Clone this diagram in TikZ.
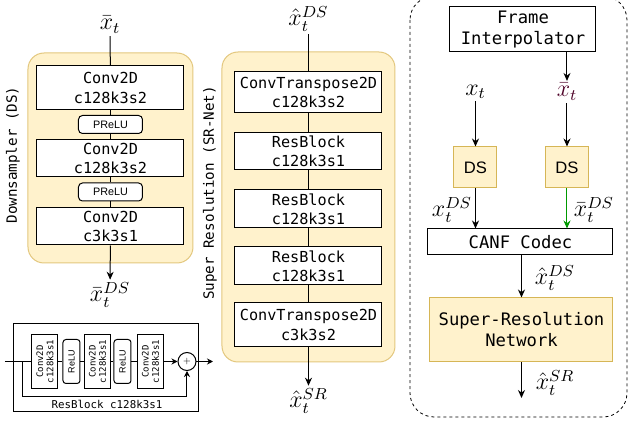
\documentclass[tikz,border=0pt]{standalone}
\usepackage{fontspec}
\setmonofont{DejaVu Sans Mono}
\setsansfont{Liberation Sans}
\usetikzlibrary{arrows.meta}

\definecolor{ylwfill}{HTML}{FFF2CC}
\definecolor{ylwdraw}{HTML}{D6B656}
\definecolor{ylwbg}{HTML}{E3C77E}
\definecolor{arrgreen}{HTML}{009900}
\definecolor{xbarcol}{HTML}{4D0026}

\begin{document}
\begin{tikzpicture}[x=0.5pt,y=-0.5pt,line width=0.5pt,
    >={Stealth[length=4pt,width=3.5pt]},
    layer/.style={draw,fill=white,align=center,inner sep=0pt,
        font=\ttfamily\fontsize{7.6}{9.7}\selectfont,minimum width=73.5pt},
    act/.style={draw,fill=white,rounded corners=2pt,inner sep=0pt,
        font=\sffamily\fontsize{5.4}{6}\selectfont,minimum width=32pt,minimum height=9pt},
    lbl/.style={font=\fontsize{11.5}{13}\selectfont,inner sep=1pt},
    sidelbl/.style={rotate=90,font=\ttfamily\fontsize{7.1}{8}\selectfont},
    panel/.style={draw=ylwbg,fill=ylwfill,rounded corners=8pt},
    bigbox/.style={draw,align=center,inner sep=0pt,
        font=\ttfamily\fontsize{8.6}{10.5}\selectfont},
    dsbox/.style={draw=ylwdraw,fill=ylwfill,inner sep=0pt,
        font=\sffamily\fontsize{8.3}{10}\selectfont,minimum width=21.5pt,minimum height=20.5pt},
    rconv/.style={draw,fill=white,rotate=90,align=center,inner sep=0pt,
        font=\ttfamily\fontsize{4.5}{5.2}\selectfont,minimum width=27pt,minimum height=13pt},
    rrelu/.style={draw,fill=white,rotate=90,rounded corners=1.5pt,inner sep=0pt,
        font=\sffamily\fontsize{4.5}{5}\selectfont,minimum width=22pt,minimum height=8.5pt},
    sml/.style={-{Stealth[length=3pt,width=3pt]}}]

    \useasboundingbox (0,0) rectangle (629,423);

    % Downsampler
    \draw[panel] (28,53) rectangle (193,263);
    \node[sidelbl] (dslbl) at (13,155) {Downsampler (DS)};
    \node[lbl] (xbar) at (110,25) {$\bar{x}_t$};
    \node[layer,minimum height=22pt] (conv1) at (110.5,88) {Conv2D\\c128k3s2};
    \node[act] (prelu1) at (110.5,124.5) {PReLU};
    \node[layer,minimum height=18.5pt] (conv2) at (110.5,158.5) {Conv2D\\c128k3s2};
    \node[act] (prelu2) at (110.5,192) {PReLU};
    \node[layer,minimum height=18.5pt] (conv3) at (110.5,226.5) {Conv2D\\c3k3s1};
    \node[lbl] (xbards) at (110,295) {$\bar{x}_t^{DS}$};

    \draw (xbar) -- (conv1);
    \draw (conv1) -- (prelu1) -- (conv2) -- (prelu2) -- (conv3);
    \draw[->] (conv3) -- (xbards);

    % Super resolution
    \draw[panel] (222,52) rectangle (395,362);
    \node[sidelbl] (srlbl) at (210,193) {Super Resolution (SR-Net)};
    \node[lbl] (xhatds) at (308.5,19) {$\hat{x}_t^{DS}$};
    \node[layer,minimum height=20.5pt] (tconv1) at (308.5,92.5) {ConvTranspose2D\\c128k3s2};
    \node[layer,minimum height=18.5pt] (res1) at (308.5,151.5) {ResBlock\\c128k3s1};
    \node[layer,minimum height=19pt] (res2) at (308.5,209) {ResBlock\\c128k3s1};
    \node[layer,minimum height=19pt] (res3) at (308.5,266) {ResBlock\\c128k3s1};
    \node[layer,minimum height=22pt] (tconv2) at (308.5,325) {ConvTranspose2D\\c3k3s2};
    \node[lbl] (xhatsr) at (308.5,401) {$\hat{x}_t^{SR}$};

    \draw (xhatds) -- (tconv1);
    \draw (tconv1) -- (res1) -- (res2) -- (res3) -- (tconv2);
    \draw[->] (tconv2) -- (xhatsr);

    % ResBlock detail
    \node[draw,minimum width=92.5pt,minimum height=44pt] (rbox) at (106.5,368) {};
    \node[font=\ttfamily\fontsize{5.4}{6}\selectfont] (rblbl) at (107,404) {ResBlock c128k3s1};
    \node[rconv] (rc1) at (45,361.5) {Conv2D\\c128k3s1};
    \node[rrelu] (rr1) at (71.5,361.5) {ReLU};
    \node[rconv] (rc2) at (97.5,361.5) {Conv2D\\c128k3s1};
    \node[rrelu] (rr2) at (122.5,361.5) {ReLU};
    \node[rconv] (rc3) at (150.5,361.5) {Conv2D\\c128k3s1};
    \node[draw,circle,fill=white,minimum size=9pt,inner sep=0pt,
        font=\fontsize{4}{4}\selectfont] (plus) at (187,361.5) {+};
    \coordinate (rin) at (5,361.5);
    \coordinate (split) at (23,361.5);
    \coordinate (skip) at (23,397);
    \coordinate (rout) at (213,361.5);

    \draw (rin) -- (rc1) -- (rr1) -- (rc2) -- (rr2) -- (rc3);
    \draw[sml] (rc3) -- (plus);
    \draw[sml] (plus) -- (rout);
    \draw[sml] (split) -- (skip) -| (plus.south);

    % Coding pipeline
    \draw[line width=0.4pt,dash pattern=on 1.5pt off 1.5pt,rounded corners=12pt]
        (410,-4) rectangle (627,417);
    \node[bigbox,minimum width=73pt,minimum height=22.5pt] (interp) at (523,29.5) {Frame\\Interpolator};
    \node[lbl] (xt) at (475.5,92) {$x_t$};
    \node[lbl,text=xbarcol] (xbar2) at (567,92) {$\bar{x}_t$};
    \node[dsbox] (ds1) at (475.5,167.5) {DS};
    \node[dsbox] (ds2) at (567,167.5) {DS};
    \node[bigbox,minimum width=92.5pt,minimum height=13pt] (canf) at (520.5,242) {CANF Codec};
    \node[bigbox,draw=ylwdraw,fill=ylwfill,minimum width=91.5pt,minimum height=32pt] (srnet) at (521.5,330)
        {Super-Resolution\\Network};
    \coordinate (srout) at (521.5,398);

    \node[lbl] (xtds) at (452,210) {$x_t^{DS}$};
    \node[lbl] (xbar2ds) at (594,210) {$\bar{x}_t^{DS}$};
    \node[lbl] (xhatds2) at (555,278) {$\hat{x}_t^{DS}$};
    \node[lbl] (xhatsr2) at (555,383) {$\hat{x}_t^{SR}$};

    \draw[->] (xbar2 |- interp.south) -- (xbar2);
    \draw[->] (xt) -- (ds1);
    \draw[->] (xbar2) -- (ds2);
    \draw[->] (ds1) -- (ds1 |- canf.north);
    \draw[->,arrgreen] (ds2) -- (ds2 |- canf.north);
    \draw[->] (canf.south -| srnet) -- (srnet);
    \draw[->] (srnet) -- (srout);
\end{tikzpicture}
\end{document}
